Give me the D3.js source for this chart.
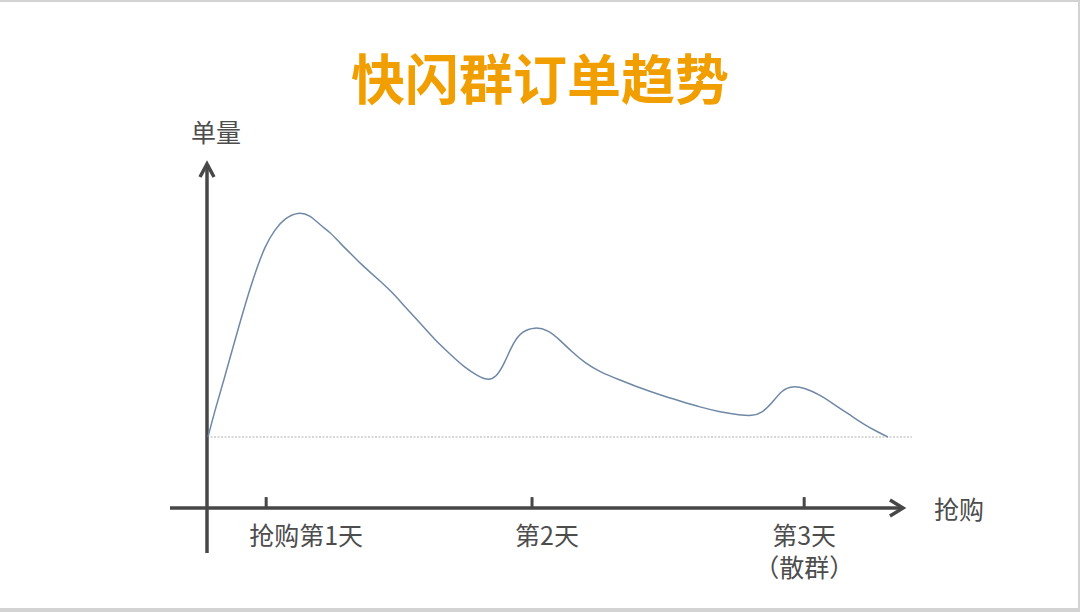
<!DOCTYPE html>
<html>
<head>
<meta charset="utf-8">
<script src="https://cdn.jsdelivr.net/npm/d3@7"></script>
<style>
  html, body { margin: 0; padding: 0; background: #fff; }
  svg { display: block; }
</style>
</head>
<body>
<svg id="chart" width="1080" height="612"></svg>
<script>
// ---- data ----
const titleText = "快闪群订单趋势";
const yAxisLabel = "单量";
const xAxisLabel = "抢购";
// timeline position (0-100) and order volume (0-100, relative)
const timeline = [0.14, 1.15, 2.59, 4.02, 5.46, 6.90, 8.33, 9.77, 11.21, 13.07, 14.80, 16.24, 17.67, 19.11, 20.55, 21.98, 23.42, 24.86, 26.72, 28.45, 30.60, 32.76, 34.91, 37.07, 38.94, 40.23, 41.52, 42.82, 43.97, 45.26, 47.13, 49.00, 50.72, 52.44, 54.31, 56.47, 59.34, 62.21, 65.09, 67.96, 70.83, 73.71, 76.58, 78.30, 79.74, 81.18, 82.61, 84.05, 85.92, 88.07, 90.23, 92.39, 94.54, 96.41, 97.84];
const orders   = [0, 12.0, 27.1, 43.1, 58.7, 72.9, 84.9, 92.4, 97.3, 100, 98.7, 94.2, 91.1, 86.2, 81.8, 77.3, 73.3, 69.3, 64.0, 57.8, 50.7, 43.1, 36.9, 30.7, 27.1, 25.3, 26.2, 33.3, 41.8, 47.1, 48.9, 47.6, 43.1, 37.8, 32.9, 28.9, 25.3, 21.8, 18.7, 16.0, 13.3, 11.1, 9.8, 9.3, 10.7, 15.1, 20.9, 22.7, 21.8, 18.7, 14.2, 9.8, 5.3, 2.2, 0];
const dayTicks = [8.5, 46.7, 85.8];
const dayLabels = [["抢购第1天"], ["第2天"], ["第3天", "（散群）"]];

// ---- layout ----
const svg = d3.select("#chart");
const W = 1080, H = 612;
const x = d3.scaleLinear().domain([0, 100]).range([207, 903]);
const y = d3.scaleLinear().domain([0, 100]).range([437, 212]);
const axisY = y(-31.6);   // x-axis position
const axisColor = "#474747";
const textColor = "#4d4d4d";
const font = "'Noto Sans CJK SC', 'Noto Sans', sans-serif";

// background + frame
svg.append("rect").attr("x", 0).attr("y", 0).attr("width", W).attr("height", H).attr("fill", "#d3d3d3");
svg.append("rect").attr("x", 0).attr("y", 2).attr("width", 1078).attr("height", 606).attr("fill", "#ffffff");

// title
svg.append("text")
  .attr("x", 540).attr("y", 76)
  .attr("text-anchor", "middle").attr("dominant-baseline", "central")
  .attr("font-family", font).attr("font-weight", "bold").attr("font-size", 54)
  .attr("fill", "#F19E00")
  .text(titleText);

// baseline dashed
svg.append("line")
  .attr("x1", x(0)).attr("x2", x(101.3))
  .attr("y1", y(0)).attr("y2", y(0))
  .attr("stroke", "#9a9a9a").attr("stroke-width", 0.8)
  .attr("stroke-dasharray", "2,1.5");

// x axis
const xAxisG = svg.append("g");
xAxisG.append("line")
  .attr("x1", 170).attr("x2", x(100) - 1)
  .attr("y1", axisY).attr("y2", axisY)
  .attr("stroke", axisColor).attr("stroke-width", 3.5);
xAxisG.append("path")
  .attr("d", `M${x(100) - 13},${axisY - 8} L${x(100)},${axisY} L${x(100) - 13},${axisY + 8}`)
  .attr("fill", "none").attr("stroke", axisColor).attr("stroke-width", 3.5)
  .attr("stroke-linejoin", "miter");
// ticks
xAxisG.selectAll("line.tick").data(dayTicks).join("line")
  .attr("class", "tick")
  .attr("x1", d => x(d)).attr("x2", d => x(d))
  .attr("y1", axisY).attr("y2", axisY - 11)
  .attr("stroke", axisColor).attr("stroke-width", 3);
// tick labels
const labelDx = [40, 15, 0];
dayLabels.forEach((lines, i) => {
  const t = svg.append("text")
    .attr("x", x(dayTicks[i]) + labelDx[i])
    .attr("y", axisY + 26)
    .attr("text-anchor", "middle").attr("dominant-baseline", "central")
    .attr("font-family", font).attr("font-size", 25)
    .attr("fill", textColor);
  lines.forEach((s, j) => {
    t.append("tspan")
      .attr("x", x(dayTicks[i]) + labelDx[i])
      .attr("dy", j === 0 ? 0 : 32)
      .text(s);
  });
});

// y axis
svg.append("line")
  .attr("x1", x(0)).attr("x2", x(0))
  .attr("y1", 553).attr("y2", 165)
  .attr("stroke", axisColor).attr("stroke-width", 3.5);
svg.append("path")
  .attr("d", `M${x(0) - 7},${177} L${x(0)},${164} L${x(0) + 7},${177}`)
  .attr("fill", "none").attr("stroke", axisColor).attr("stroke-width", 3.5);

// axis labels
svg.append("text")
  .attr("x", 216).attr("y", 131)
  .attr("text-anchor", "middle").attr("dominant-baseline", "central")
  .attr("font-family", font).attr("font-size", 25).attr("fill", textColor)
  .text(yAxisLabel);
svg.append("text")
  .attr("x", 959).attr("y", 508)
  .attr("text-anchor", "middle").attr("dominant-baseline", "central")
  .attr("font-family", font).attr("font-size", 25).attr("fill", textColor)
  .text(xAxisLabel);

// curve
const pts = timeline.map((t, i) => [t, orders[i]]);
const line = d3.line()
  .x(d => x(d[0])).y(d => y(d[1]))
  .curve(d3.curveBasis);
svg.append("path")
  .datum(pts)
  .attr("d", line)
  .attr("fill", "none")
  .attr("stroke", "#6f88a5")
  .attr("stroke-width", 1.5);
</script>
</body>
</html>
